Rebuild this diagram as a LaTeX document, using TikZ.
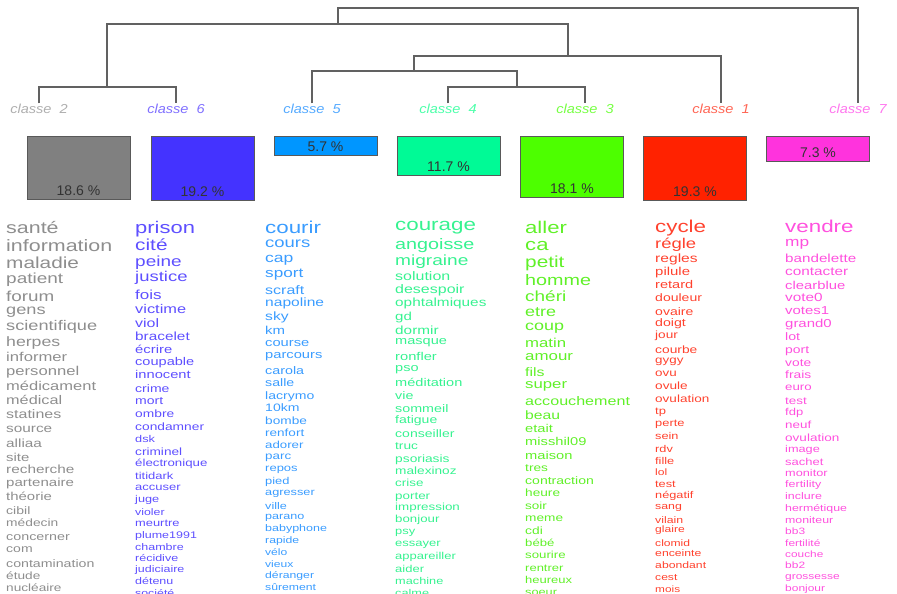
\documentclass[tikz,border=0pt]{standalone}
\usepackage{fontspec}
\setmainfont{Liberation Sans}
\newfontfamily\motfont[FakeStretch=1.3]{Liberation Sans}
\newfontfamily\classefont[FakeStretch=1.12]{Liberation Sans}
\usepackage{tikz}

% couleurs des classes
\definecolor{barre2}{HTML}{808080}
\definecolor{barre6}{HTML}{4433FF}
\definecolor{barre5}{HTML}{0096FF}
\definecolor{barre4}{HTML}{00FA96}
\definecolor{barre3}{HTML}{4DFF00}
\definecolor{barre1}{HTML}{FF2200}
\definecolor{barre7}{HTML}{FF33DD}
\definecolor{mot2}{HTML}{8E8E8E}
\definecolor{mot6}{HTML}{5E4FFF}
\definecolor{mot5}{HTML}{3A9CFF}
\definecolor{mot4}{HTML}{36F290}
\definecolor{mot3}{HTML}{60F028}
\definecolor{mot1}{HTML}{FF422E}
\definecolor{mot7}{HTML}{FF50DE}
\definecolor{lbl2}{HTML}{AFAFAF}
\definecolor{lbl6}{HTML}{8070FF}
\definecolor{lbl5}{HTML}{55AAFF}
\definecolor{lbl4}{HTML}{4DFFAA}
\definecolor{lbl3}{HTML}{77FF44}
\definecolor{lbl1}{HTML}{FF6655}
\definecolor{lbl7}{HTML}{FF77EE}

\begin{document}
\begin{tikzpicture}[
    x=1pt, y=-1pt,
    arbre/.style={draw=black!62, line width=1.2pt},
    classe/.style={font=\classefont\itshape\fontsize{13}{13}\selectfont, inner sep=0pt, anchor=base},
    barre/.style={draw=black!65, line width=0.8pt, minimum width=103pt, anchor=north, inner sep=0pt},
    pct/.style={font=\fontsize{14}{14}\selectfont, text=black!80, inner sep=0pt},
    mot/.style={anchor=mid west, inner sep=0pt, yshift=-2.5pt}
]
\useasboundingbox (0,0) rectangle (897,594);
\clip (0,0) rectangle (897,594);

% Etiquettes des classes
\node[classe, text=lbl2] (l2) at (39,113) {classe\ \ 2};
\node[classe, text=lbl6] (l6) at (176,113) {classe\ \ 6};
\node[classe, text=lbl5] (l5) at (312,113) {classe\ \ 5};
\node[classe, text=lbl4] (l4) at (448,113) {classe\ \ 4};
\node[classe, text=lbl3] (l3) at (585,113) {classe\ \ 3};
\node[classe, text=lbl1] (l1) at (721,113) {classe\ \ 1};
\node[classe, text=lbl7] (l7) at (858,113) {classe\ \ 7};

% Noeuds de l'arbre
\coordinate (n26) at (107,87);
\coordinate (n43) at (517,87);
\coordinate (n543) at (414,71);
\coordinate (n1) at (568,56);
\coordinate (nA) at (338,24);
\coordinate (racine) at (338,8);

% Dendrogramme
\draw[arbre] (l2.north) |- (n26) -| (l6.north);
\draw[arbre] (l4.north) |- (n43) -| (l3.north);
\draw[arbre] (l5.north) |- (n543) -| (n43);
\draw[arbre] (n543) |- (n1) -| (l1.north);
\draw[arbre] (n26) |- (nA) -| (n1);
\draw[arbre] (nA) |- (racine) -| (l7.north);

% Barres des pourcentages
\node[barre, fill=barre2, minimum height=63pt] (b2) at (78.5,136) {};
\node[barre, fill=barre6, minimum height=64pt] (b6) at (202.5,136) {};
\node[barre, fill=barre5, minimum height=19pt] (b5) at (325.5,136) {};
\node[barre, fill=barre4, minimum height=39pt] (b4) at (448.5,136) {};
\node[barre, fill=barre3, minimum height=61pt] (b3) at (572,136) {};
\node[barre, fill=barre1, minimum height=64pt] (b1) at (695,136) {};
\node[barre, fill=barre7, minimum height=25pt] (b7) at (818,136) {};

\node[pct] (p2) at ([yshift=9.5pt]b2.south) {18.6 \%};
\node[pct] (p6) at ([yshift=9.5pt]b6.south) {19.2 \%};
\node[pct] (p5) at ([yshift=9.5pt]b5.south) {5.7 \%};
\node[pct] (p4) at ([yshift=9.5pt]b4.south) {11.7 \%};
\node[pct] (p3) at ([yshift=9.5pt]b3.south) {18.1 \%};
\node[pct] (p1) at ([yshift=9.5pt]b1.south) {19.3 \%};
\node[pct] (p7) at ([yshift=9.5pt]b7.south) {7.3 \%};

% Mots de la classe 2
\foreach \y/\s/\w [count=\i] in {228/16.5/santé, 246/16.5/information, 263/16/maladie,
    278/14.6/patient, 296/14.5/forum, 309/14/gens, 325/14/scientifique, 341/13.6/herpes,
    356/12.8/informer, 370/12.8/personnel, 385/12.7/médicament, 399/12.5/médical,
    413/12.3/statines, 427/11.8/source, 442/11.8/alliaa, 456/11.5/site, 468/11.8/recherche,
    481/11.6/partenaire, 495/11.5/théorie, 509/10.8/cibil, 521/10.6/médecin,
    535/11/concerner, 547/10.8/com, 562/10.9/contamination, 574/10.5/étude, 586/10.5/nucléaire}
  \node[mot, text=mot2, font=\motfont\fontsize{\s}{\s}\selectfont] (m2-\i) at (6,\y) {\w};

% Mots de la classe 6
\foreach \y/\s/\w [count=\i] in {228/16.9/prison, 245/16/cité, 261/14.6/peine, 276/14.2/justice,
    294/13.1/fois, 308/12.6/victime, 322/12.3/viol, 335/11.8/bracelet, 348/11.4/écrire,
    360/11.2/coupable, 373/11.3/innocent, 387/10.8/crime, 399/10.8/mort, 412/10.6/ombre,
    425/10.6/condamner, 437/9.8/dsk, 450/10.5/criminel, 461/10.2/électronique,
    474/10/titidark, 485/10/accuser, 497/9.8/juge, 510/9.5/violer, 521/9.9/meurtre,
    533/9.6/plume1991, 545/9.6/chambre, 556/9.6/récidive, 567/9.6/judiciaire,
    579/9.6/détenu, 591/9.5/société}
  \node[mot, text=mot6, font=\motfont\fontsize{\s}{\s}\selectfont] (m6-\i) at (135,\y) {\w};

% Mots de la classe 5
\foreach \y/\s/\w [count=\i] in {228/17.2/courir, 242/14.2/cours, 257/13.5/cap, 272/13.2/sport,
    289/12.3/scraft, 301/12/napoline, 315/12/sky, 329/11.5/km, 341/11.3/course,
    353/11.3/parcours, 369/11/carola, 381/10.9/salle, 394/10.8/lacrymo, 406/10.8/10km,
    419/10.5/bombe, 431/10.4/renfort, 443/10.2/adorer, 454/10.3/parc, 466/10/repos,
    479/9.9/pied, 490/9.8/agresser, 504/9.7/ville, 514/9.7/parano, 526/9.6/babyphone,
    538/9.4/rapide, 550/9.3/vélo, 562/9.3/vieux, 573/9.4/déranger, 585/9.4/sûrement}
  \node[mot, text=mot5, font=\motfont\fontsize{\s}{\s}\selectfont] (m5-\i) at (265,\y) {\w};

% Mots de la classe 4
\foreach \y/\s/\w [count=\i] in {225/17.2/courage, 244/15.2/angoisse, 260/14.7/migraine,
    275/12.3/solution, 288/12.3/desespoir, 301/11.8/ophtalmiques, 315/11.6/gd,
    329/11.8/dormir, 339/11.2/masque, 355/11.3/ronfler, 366/11.2/pso, 381/11.2/méditation,
    394/11/vie, 407/11/sommeil, 418/10.8/fatigue, 432/10.8/conseiller, 444/10.5/truc,
    457/10.6/psoriasis, 469/10.5/malexinoz, 481/10.3/crise, 494/10.3/porter,
    505/10.3/impression, 517/10.2/bonjour, 529/9.9/psy, 541/10/essayer,
    554/10/appareiller, 567/10/aider, 579/9.8/machine, 591/9.8/calme}
  \node[mot, text=mot4, font=\motfont\fontsize{\s}{\s}\selectfont] (m4-\i) at (395,\y) {\w};

% Mots de la classe 3
\foreach \y/\s/\w [count=\i] in {228/17/aller, 245/17/ca, 262/16/petit, 280/15.2/homme,
    296/14.6/chéri, 311/13.8/etre, 325/13.8/coup, 342/12.9/matin, 355/13/amour,
    371/12.2/fils, 383/12.9/super, 400/12.4/accouchement, 414/12.1/beau, 427/11.3/etait,
    440/11.3/misshil09, 454/11.3/maison, 466/10.5/tres, 479/10.8/contraction,
    491/10.5/heure, 504/10.4/soir, 516/10.5/meme, 529/10.6/cdi, 541/10.1/bébé,
    553/10.2/sourire, 566/10/rentrer, 578/10/heureux, 590/9.8/soeur}
  \node[mot, text=mot3, font=\motfont\fontsize{\s}{\s}\selectfont] (m3-\i) at (525,\y) {\w};

% Mots de la classe 1
\foreach \y/\s/\w [count=\i] in {227/17.2/cycle, 243/14.2/régle, 257/12/regles, 270/11.5/pilule,
    283/11.2/retard, 296/10.8/douleur, 310/10.8/ovaire, 321/10.9/doigt, 333/10.5/jour,
    348/10.6/courbe, 358/10.3/gygy, 371/10.3/ovu, 384/10.5/ovule, 397/10.4/ovulation,
    409/10/tp, 421/9.9/perte, 434/9.8/sein, 447/9.8/rdv, 459/9.8/fille, 470/9.3/lol,
    482/9.8/test, 493/9.8/négatif, 504/9.5/sang, 518/9.5/vilain, 527/9.3/glaire,
    541/9.3/clomid, 551/9.4/enceinte, 563/9.4/abondant, 575/9.3/cest, 587/9.1/mois}
  \node[mot, text=mot1, font=\motfont\fontsize{\s}{\s}\selectfont] (m1-\i) at (655,\y) {\w};

% Mots de la classe 7
\foreach \y/\s/\w [count=\i] in {227/17.2/vendre, 241/13.3/mp, 257/11.7/bandelette,
    270/11.8/contacter, 284/11.4/clearblue, 296/11.8/vote0, 309/11.5/votes1,
    322/11.5/grand0, 335/10.9/lot, 348/10.7/port, 361/10.6/vote, 373/10.6/frais,
    385/10.2/euro, 399/10.3/test, 410/10/fdp, 423/10.3/neuf, 436/10.4/ovulation,
    447/9.8/image, 460/10/sachet, 471/9.8/monitor, 482/9.6/fertility, 494/9.6/inclure,
    506/9.5/hermétique, 518/9.5/moniteur, 529/9.2/bb3, 541/9.2/fertilité,
    552/9.1/couche, 563/9.2/bb2, 574/9.2/grossesse, 586/9.2/bonjour}
  \node[mot, text=mot7, font=\motfont\fontsize{\s}{\s}\selectfont] (m7-\i) at (785,\y) {\w};

\end{tikzpicture}
\end{document}
